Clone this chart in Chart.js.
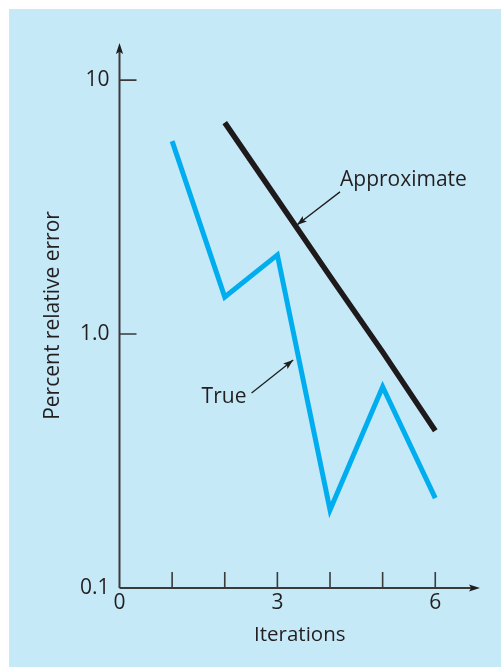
<!DOCTYPE html>
<html>
<head>
<meta charset="utf-8">
<script src="https://cdn.jsdelivr.net/npm/chart.js@4.4.1/dist/chart.umd.min.js"></script>
<style>
  html, body { margin: 0; padding: 0; background: #ffffff; }
  #painel {
    position: absolute; left: 9px; top: 9px;
    width: 492px; height: 658px;
    background: #c6e9f8;
  }
  canvas { display: block; }
</style>
</head>
<body>
<div id="painel"><canvas id="grafico" width="492" height="658"></canvas></div>
<script>
/* --------------------------
   Dados
   -------------------------- */
const iteracoes = [1, 2, 3, 4, 5, 6];
const erroVerdadeiro = [5.75, 1.4, 2.05, 0.203, 0.62, 0.226];
const iteracoesAprox = [2, 3, 4, 5, 6];
const erroAproximado = [6.8, 3.39, 1.69, 0.85, 0.416];

const ticksX = [0, 1, 2, 3, 4, 5, 6];
const rotulosX = { 0: "0", 3: "3", 6: "6" };
const ticksY = [0.1, 1, 10];
const rotulosY = { 0.1: "0.1", 1: "1.0", 10: "10" };

// anotações (em coordenadas de dados)
const anotacoes = [
  { texto: "Approximate", tx: 4.19, ty: 4.04, de: [4.19, 3.63], para: [3.37, 2.69] },
  { texto: "True", tx: 1.56, ty: 0.565, de: [2.51, 0.586], para: [3.30, 0.79] },
];

const FONTE = '"Open Sans", "Liberation Sans", sans-serif';
const COR_EIXO = "#3a3a3a";
const COR_TEXTO = "#231f20";

function seta(ctx, x0, y0, x1, y1, comp, larg) {
  const ang = Math.atan2(y1 - y0, x1 - x0);
  ctx.save();
  ctx.translate(x1, y1);
  ctx.rotate(ang);
  ctx.beginPath();
  ctx.moveTo(0, 0);
  ctx.lineTo(-comp, -larg);
  ctx.lineTo(-comp * 0.8, 0);
  ctx.lineTo(-comp, larg);
  ctx.closePath();
  ctx.fill();
  ctx.restore();
}

/* --------------------------
   Plugin: eixos com setas, marcas e anotações
   -------------------------- */
const eixosPlugin = {
  id: "eixos",
  afterDatasetsDraw(chart) {
    const ctx = chart.ctx;
    const sx = chart.scales.x;
    const sy = chart.scales.y;
    const x0 = sx.getPixelForValue(0);
    const y0 = sy.getPixelForValue(0.1);
    const yTopo = sy.getPixelForValue(sy.max);
    const xFim = sx.getPixelForValue(sx.max);

    ctx.save();
    ctx.strokeStyle = COR_EIXO;
    ctx.fillStyle = "#1e1e1e";
    ctx.lineWidth = 2;
    ctx.beginPath();
    ctx.moveTo(x0, y0);
    ctx.lineTo(x0, yTopo + 6);
    ctx.moveTo(x0, y0);
    ctx.lineTo(xFim - 6, y0);
    ctx.stroke();
    seta(ctx, x0, y0, x0, yTopo, 11, 3.6);
    seta(ctx, x0, y0, xFim, y0, 11, 3.6);

    ctx.lineWidth = 1.6;
    ctx.beginPath();
    ticksX.forEach((v) => {
      if (v === 0) return;
      const px = sx.getPixelForValue(v);
      ctx.moveTo(px, y0);
      ctx.lineTo(px, y0 - 16);
    });
    ticksY.forEach((v) => {
      if (v === 0.1) return;
      const py = sy.getPixelForValue(v);
      ctx.moveTo(x0, py);
      ctx.lineTo(x0 + 17, py);
    });
    ctx.stroke();

    // anotações
    ctx.font = "21px " + FONTE;
    ctx.fillStyle = COR_TEXTO;
    ctx.textBaseline = "middle";
    ctx.textAlign = "left";
    ctx.strokeStyle = "#1e1e1e";
    ctx.lineWidth = 1.3;
    anotacoes.forEach((a) => {
      ctx.fillText(a.texto, sx.getPixelForValue(a.tx), sy.getPixelForValue(a.ty));
      const ax = sx.getPixelForValue(a.de[0]);
      const ay = sy.getPixelForValue(a.de[1]);
      const bx = sx.getPixelForValue(a.para[0]);
      const by = sy.getPixelForValue(a.para[1]);
      ctx.beginPath();
      ctx.moveTo(ax, ay);
      ctx.lineTo(bx, by);
      ctx.stroke();
      ctx.fillStyle = "#1e1e1e";
      seta(ctx, ax, ay, bx, by, 10, 3.5);
      ctx.fillStyle = COR_TEXTO;
    });
    ctx.restore();
  },
};

/* --------------------------
   Gráfico
   -------------------------- */
const grafico = new Chart(document.getElementById("grafico").getContext("2d"), {
  type: "line",
  data: {
    datasets: [
      {
        label: "True",
        data: iteracoes.map((x, i) => ({ x, y: erroVerdadeiro[i] })),
        borderColor: "#00aeef",
        borderWidth: 5,
        borderJoinStyle: "miter",
        pointRadius: 0,
        tension: 0,
        fill: false,
      },
      {
        label: "Approximate",
        data: iteracoesAprox.map((x, i) => ({ x, y: erroAproximado[i] })),
        borderColor: "#1e1a1b",
        borderWidth: 5.5,
        borderJoinStyle: "miter",
        pointRadius: 0,
        tension: 0,
        fill: false,
      },
    ],
  },
  options: {
    responsive: false,
    animation: false,
    events: [],
    layout: { padding: { top: 34, right: 21, left: 31, bottom: 20 } },
    plugins: { legend: { display: false }, tooltip: { enabled: false } },
    scales: {
      x: {
        type: "linear",
        min: 0,
        max: 6.85,
        border: { display: false },
        grid: { display: false, drawTicks: false },
        afterBuildTicks(scale) {
          scale.ticks = ticksX.map((v) => ({ value: v }));
        },
        afterFit(scale) {
          scale.height = 59;
        },
        ticks: {
          autoSkip: false,
          maxRotation: 0,
          padding: 2,
          color: COR_TEXTO,
          font: { family: FONTE, size: 21 },
          callback: (v) => rotulosX[v] ?? "",
        },
        title: {
          display: true,
          text: "Iterations",
          color: COR_TEXTO,
          font: { family: FONTE, size: 20.5 },
          padding: 0,
        },
      },
      y: {
        type: "logarithmic",
        min: 0.1,
        max: 14,
        border: { display: false },
        grid: { display: false, drawTicks: false },
        afterBuildTicks(scale) {
          scale.ticks = ticksY.map((v) => ({ value: v }));
        },
        afterFit(scale) {
          scale.width = 79.5;
        },
        ticks: {
          autoSkip: false,
          padding: 10,
          color: COR_TEXTO,
          font: { family: FONTE, size: 21 },
          callback: (v) => rotulosY[v] ?? "",
        },
        title: {
          display: true,
          text: "Percent relative error",
          color: COR_TEXTO,
          font: { family: FONTE, size: 21 },
          padding: 0,
        },
      },
    },
  },
  plugins: [eixosPlugin],
});
</script>
</body>
</html>
